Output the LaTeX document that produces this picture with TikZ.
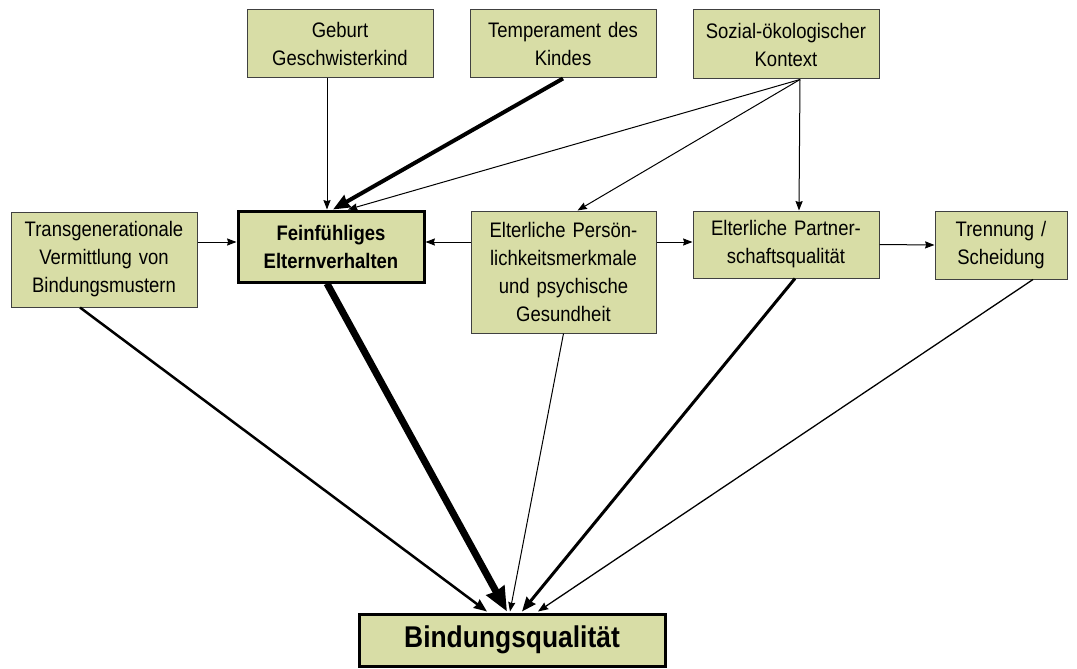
\documentclass[tikz,border=0pt]{standalone}
\usepackage{fontspec}
\setsansfont{Liberation Sans}[FakeStretch=0.88]
\usetikzlibrary{arrows.meta}
\definecolor{kastengruen}{RGB}{216,221,166}
\tikzset{
	>={Stealth[length=7pt 2.4, width=5pt 2.1, inset=1pt]},
	kasten/.style={
		rectangle,
		fill=kastengruen,
		draw=black!75, line width=1pt,
		inner sep=0pt,
		text centered,
		font=\sffamily\fontsize{21}{28}\selectfont},
	kastenfett/.style={
		kasten,
		draw=black, line width=3pt,
		font=\sffamily\bfseries\fontsize{21}{28}\selectfont},
	pfeil/.style={draw, ->, line width=1pt},
}

\begin{document}
\begin{tikzpicture}
	[x=1pt, y=-1pt, font=\sffamily]
	\useasboundingbox (0,0) rectangle (1077,669);
	% obere Reihe
	\node[kasten, text width=186pt, minimum height=68pt] (geburt) at (340,44) {Geburt\\Geschwisterkind};
	\node[kasten, text width=186pt, minimum height=68pt] (temperament) at (563,44) {Temperament des\\Kindes};
	\node[kasten, text width=186pt, minimum height=69pt] (kontext) at (786,44.5) {Sozial-ökologischer\\Kontext};
	% mittlere Reihe
	\node[kasten, text width=186pt, minimum height=95pt] (transgen) at (104,259.5) {Transgenerationale\\Vermittlung von\\Bindungsmustern};
	\node[kastenfett, text width=186pt, minimum height=71pt] (feinfuehlig) at (331,246.5) {Feinfühliges\\Elternverhalten};
	\node[kasten, text width=185pt, minimum height=122pt] (persoenlichkeit) at (563.5,272) {Elterliche Persön-\\lichkeitsmerkmale\\und psychische\\Gesundheit};
	\node[kasten, text width=186pt, minimum height=67pt] (partnerschaft) at (786,244.5) {Elterliche Partner-\\schaftsqualität};
	\node[kasten, text width=132pt, minimum height=68pt] (trennung) at (1001,245) {Trennung /\\Scheidung};
	% Ergebnis
	\node[kastenfett, text width=306pt, minimum height=52pt, font=\sffamily\bfseries\fontsize{30}{34}\selectfont] (bindung) at (512,640) {Bindungsqualität};

	\draw[pfeil] ([xshift=-13pt]geburt.south) -- ([xshift=-4pt]feinfuehlig.north);
	\draw[pfeil, line width=4pt] (temperament.south) -- ([xshift=2pt]feinfuehlig.north);
	\draw[pfeil] ([xshift=14pt]kontext.south) -- ([xshift=17pt]feinfuehlig.north);
	\draw[pfeil] ([xshift=14pt]kontext.south) -- ([xshift=14pt]persoenlichkeit.north);
	\draw[pfeil] ([xshift=14pt]kontext.south) -- ([xshift=13pt]partnerschaft.north);

	\draw[pfeil] ([yshift=17.5pt]transgen.east) -- ([yshift=4.5pt]feinfuehlig.west);
	\draw[pfeil] ([yshift=30pt]persoenlichkeit.west) -- ([yshift=4.5pt]feinfuehlig.east);
	\draw[pfeil] ([yshift=30pt]persoenlichkeit.east) -- ([yshift=2.5pt]partnerschaft.west);
	\draw[pfeil] (partnerschaft.east) -- (trennung.west);

	\draw[pfeil, line width=2.5pt] ([xshift=-24pt]transgen.south) -- ([xshift=-25pt,yshift=1pt]bindung.north);
	\draw[pfeil, line width=7pt] ([xshift=-4pt]feinfuehlig.south) -- ([xshift=-5pt,yshift=1pt]bindung.north);
	\draw[pfeil] (persoenlichkeit.south) -- ([xshift=-2pt,yshift=1pt]bindung.north);
	\draw[pfeil, line width=3pt] ([xshift=9pt]partnerschaft.south) -- ([xshift=10pt,yshift=1pt]bindung.north);
	\draw[pfeil, line width=1.3pt] ([xshift=32pt]trennung.south) -- ([xshift=26pt,yshift=1pt]bindung.north);
\end{tikzpicture}
\end{document}
